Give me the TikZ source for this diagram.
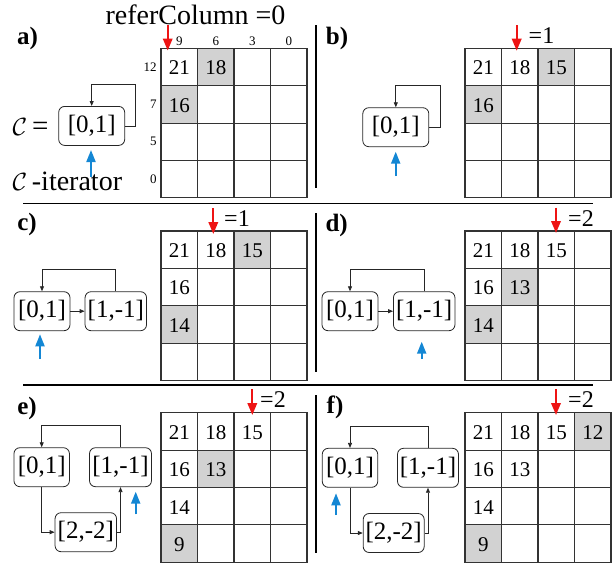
\documentclass[tikz,border=0pt]{standalone}
\usepackage{fontspec}
\setmainfont{Liberation Serif}
\usetikzlibrary{arrows.meta}

\definecolor{arrred}{RGB}{238,20,20}
\definecolor{arrblue}{RGB}{20,135,212}
\definecolor{cellgray}{RGB}{210,210,210}

\def\cw{36.5}
\def\ch{37.4}

% grid helpers (used inside a shifted scope)
\newcommand\gridframe{%
  \draw[gridl] (0,0) rectangle (4*\cw,4*\ch);
  \foreach \i in {1,2,3} {\draw[gridl] (\i*\cw,0) -- (\i*\cw,4*\ch);}
  \foreach \j in {1,2,3} {\draw[gridl] (0,\j*\ch) -- (4*\cw,\j*\ch);}
}
\newcommand\grayit[2]{\fill[cellgray] ({#1*\cw},{#2*\ch}) rectangle ({(#1+1)*\cw},{(#2+1)*\ch});}
\newcommand\cellval[4]{\node[num] (#1) at ({(#2+0.5)*\cw},{(#3+0.5)*\ch}) {#4};}

\tikzset{
  cbox/.style={draw=black!85, line width=0.8pt, rounded corners=6pt, minimum height=39pt,
    inner sep=1pt, font=\rmfamily\fontsize{25}{25}\selectfont},
  num/.style={font=\rmfamily\fontsize{21}{21}\selectfont, inner sep=0pt, yshift=-1pt},
  conn/.style={draw=black!85, line width=0.8pt, -{Triangle[length=5pt,width=4pt]}},
  redarr/.style={draw=arrred, line width=2pt, -{Triangle[length=12pt,width=9.5pt]}},
  bluearr/.style={draw=arrblue, line width=2pt, -{Triangle[length=12pt,width=9pt]}},
  gridl/.style={draw=black!80, line width=1.1pt},
  sepline/.style={draw=black, line width=1.2pt},
  plabel/.style={font=\rmfamily\bfseries\fontsize{25}{25}\selectfont, inner sep=0pt},
  eqlabel/.style={font=\rmfamily\fontsize{24}{24}\selectfont, inner sep=0pt},
  axislbl/.style={font=\rmfamily\fontsize{13}{13}\selectfont, inner sep=0pt},
  txt/.style={font=\rmfamily\fontsize{28}{28}\selectfont, inner sep=0pt},
}

\begin{document}
\begin{tikzpicture}[x=1pt,y=-1pt]
\useasboundingbox (0,0) rectangle (616,568);

% separators
\draw[sepline] (23,203.3) -- (593,203.3);
\draw[sepline] (23,385) -- (593,385);
\draw[sepline] (316,25) -- (316,188);
\draw[sepline] (316,213) -- (316,372);
\draw[sepline] (316,395) -- (316,553);

% panel labels
\node[plabel] (la) at (27.5,38.5) {a)};
\node[plabel] (lb) at (337,38.5) {b)};
\node[plabel] (lc) at (27,224.7) {c)};
\node[plabel] (ld) at (336.7,225.3) {d)};
\node[plabel] (le) at (27,408) {e)};
\node[plabel] (lf) at (335,407.5) {f)};

% ---------- a ----------
\node[txt] (refcol) at (195.5,15) {referColumn =0};
\begin{scope}[shift={(161,48.3)}]
  \grayit{1}{0}\grayit{0}{1}
  \gridframe
  \cellval{a-21}{0}{0}{21}\cellval{a-18}{1}{0}{18}\cellval{a-16}{0}{1}{16}
  \node[axislbl] (a-h9) at (0.5*\cw,-6.6) {9};
  \node[axislbl] (a-h6) at (1.5*\cw,-6.6) {6};
  \node[axislbl] (a-h3) at (2.5*\cw,-6.6) {3};
  \node[axislbl] (a-h0) at (3.5*\cw,-6.6) {0};
  \node[axislbl,anchor=east] (a-v12) at (-4.3,0.5*\ch) {12};
  \node[axislbl,anchor=east] (a-v7) at (-4.3,1.5*\ch) {7};
  \node[axislbl,anchor=east] (a-v5) at (-4.3,2.5*\ch) {5};
  \node[axislbl,anchor=east] (a-v0) at (-4.3,3.5*\ch) {0};
\end{scope}
\coordinate (a-r0) at (167.7,25);
\coordinate (a-r1) at (167.7,50.5);
\draw[redarr] (a-r0) -- (a-r1);
\node[cbox,minimum width=66pt] (a-c) at (91.7,125.9) {[0,1]};
\draw[conn] (a-c.east) -| (135.7,84) -| (a-c.north);
\node[anchor=west,inner sep=0pt,font=\rmfamily\fontsize{29}{29}\selectfont] (a-ceq) at (12.5,126.7) {$\mathcal{C}$\,=};
\node[anchor=west,inner sep=0pt,font=\rmfamily\fontsize{28}{28}\selectfont] (a-iter) at (12.5,181.7) {$\mathcal{C}$\,-iterator};
\coordinate (a-b0) at (91,177);
\coordinate (a-b1) at (91,150);
\draw[bluearr] (a-b0) -- (a-b1);

% ---------- b ----------
\begin{scope}[shift={(465,48.3)}]
  \grayit{2}{0}\grayit{0}{1}
  \gridframe
  \cellval{b-21}{0}{0}{21}\cellval{b-18}{1}{0}{18}\cellval{b-15}{2}{0}{15}\cellval{b-16}{0}{1}{16}
\end{scope}
\coordinate (b-r0) at (516.7,25);
\coordinate (b-r1) at (516.7,50.7);
\draw[redarr] (b-r0) -- (b-r1);
\node[eqlabel] (b-eq) at (541.5,35.5) {=1};
\node[cbox,minimum width=66pt] (b-c) at (395.8,127.2) {[0,1]};
\draw[conn] (b-c.east) -| (440,85.7) -| (b-c.north);
\coordinate (b-b0) at (395.7,176);
\coordinate (b-b1) at (395.7,151.7);
\draw[bluearr] (b-b0) -- (b-b1);

% ---------- c ----------
\begin{scope}[shift={(161,231)}]
  \grayit{2}{0}\grayit{0}{2}
  \gridframe
  \cellval{c-21}{0}{0}{21}\cellval{c-18}{1}{0}{18}\cellval{c-15}{2}{0}{15}
  \cellval{c-16}{0}{1}{16}\cellval{c-14}{0}{2}{14}
\end{scope}
\coordinate (c-r0) at (213.3,208);
\coordinate (c-r1) at (213.3,234);
\draw[redarr] (c-r0) -- (c-r1);
\node[eqlabel] (c-eq) at (237,219) {=1};
\node[cbox,minimum width=56pt] (c-c1) at (42,311.2) {[0,1]};
\node[cbox,minimum width=61.5pt] (c-c2) at (115.8,311.2) {[1,-1]};
\draw[conn] (c-c1.east) -- (c-c2.west);
\draw[conn] (c-c2.north) -- ++(0,-22.4) -| (c-c1.north);
\coordinate (c-b0) at (40,359);
\coordinate (c-b1) at (40,334.3);
\draw[bluearr] (c-b0) -- (c-b1);

% ---------- d ----------
\begin{scope}[shift={(465,231)}]
  \grayit{1}{1}\grayit{0}{2}
  \gridframe
  \cellval{d-21}{0}{0}{21}\cellval{d-18}{1}{0}{18}\cellval{d-15}{2}{0}{15}
  \cellval{d-16}{0}{1}{16}\cellval{d-13}{1}{1}{13}\cellval{d-14}{0}{2}{14}
\end{scope}
\coordinate (d-r0) at (556,207.7);
\coordinate (d-r1) at (556,233);
\draw[redarr] (d-r0) -- (d-r1);
\node[eqlabel] (d-eq) at (581,219) {=2};
\node[cbox,minimum width=56pt] (d-c1) at (350,311.2) {[0,1]};
\node[cbox,minimum width=61.5pt] (d-c2) at (424.2,311.2) {[1,-1]};
\draw[conn] (d-c1.east) -- (d-c2.west);
\draw[conn] (d-c2.north) -- ++(0,-22.4) -| (d-c1.north);
\coordinate (d-b0) at (421.7,359);
\coordinate (d-b1) at (421.7,341.7);
\draw[bluearr] (d-b0) -- (d-b1);

% ---------- e ----------
\begin{scope}[shift={(161,412.7)}]
  \grayit{1}{1}\grayit{0}{3}
  \gridframe
  \cellval{e-21}{0}{0}{21}\cellval{e-18}{1}{0}{18}\cellval{e-15}{2}{0}{15}
  \cellval{e-16}{0}{1}{16}\cellval{e-13}{1}{1}{13}\cellval{e-14}{0}{2}{14}\cellval{e-9}{0}{3}{9}
\end{scope}
\coordinate (e-r0) at (252.3,389);
\coordinate (e-r1) at (252.3,415);
\draw[redarr] (e-r0) -- (e-r1);
\node[eqlabel] (e-eq) at (273,400) {=2};
\node[cbox,minimum width=55.5pt] (e-c0) at (41.7,467.2) {[0,1]};
\node[cbox,minimum width=62pt] (e-c1) at (120.5,467.2) {[1,-1]};
\node[cbox,minimum width=61.5pt] (e-c2) at (85.8,532.2) {[2,-2]};
\draw[conn] (e-c0.south) |- (e-c2.west);
\draw[conn] (e-c2.east) -| (e-c1.south);
\draw[conn] (e-c1.north) -- ++(0,-21.7) -| (e-c0.north);
\coordinate (e-b0) at (135.7,514.3);
\coordinate (e-b1) at (135.7,491.7);
\draw[bluearr] (e-b0) -- (e-b1);

% ---------- f ----------
\begin{scope}[shift={(465,412.7)}]
  \grayit{3}{0}\grayit{0}{3}
  \gridframe
  \cellval{f-21}{0}{0}{21}\cellval{f-18}{1}{0}{18}\cellval{f-15}{2}{0}{15}\cellval{f-12}{3}{0}{12}
  \cellval{f-16}{0}{1}{16}\cellval{f-13}{1}{1}{13}\cellval{f-14}{0}{2}{14}\cellval{f-9}{0}{3}{9}
\end{scope}
\coordinate (f-r0) at (556,389);
\coordinate (f-r1) at (556,415);
\draw[redarr] (f-r0) -- (f-r1);
\node[eqlabel] (f-eq) at (581,400) {=2};
\node[cbox,minimum width=55.5pt] (f-c0) at (350,467.8) {[0,1]};
\node[cbox,minimum width=61pt] (f-c1) at (428,467.8) {[1,-1]};
\node[cbox,minimum width=61pt] (f-c2) at (393.7,533) {[2,-2]};
\draw[conn] (f-c0.south) |- (f-c2.west);
\draw[conn] (f-c2.east) -| (f-c1.south);
\draw[conn] (f-c1.north) -- ++(0,-21.6) -| (f-c0.north);
\coordinate (f-b0) at (336,515);
\coordinate (f-b1) at (336,493.3);
\draw[bluearr] (f-b0) -- (f-b1);
\end{tikzpicture}
\end{document}
